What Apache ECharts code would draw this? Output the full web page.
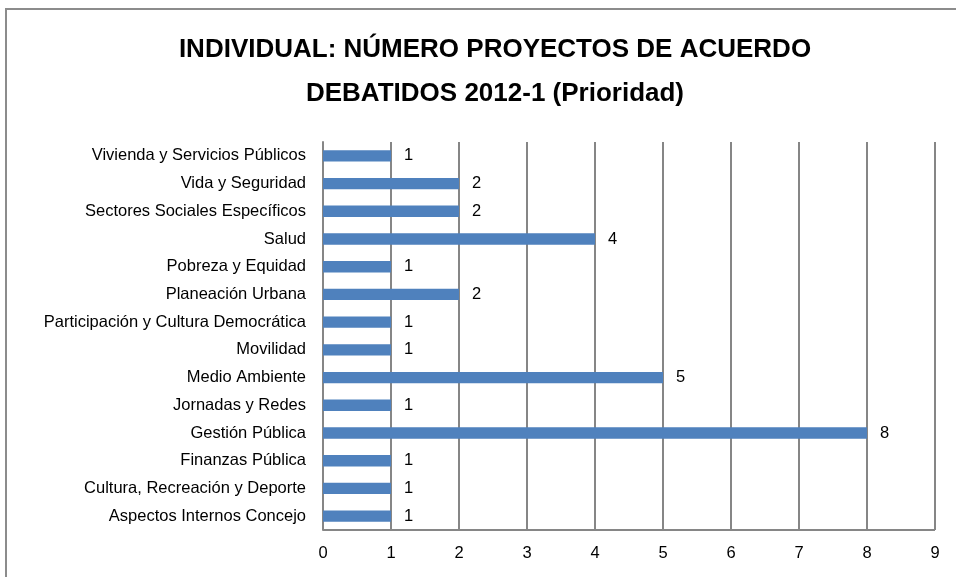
<!DOCTYPE html>
<html lang="es">
<head>
    <meta charset="UTF-8">
    <title>Proyectos de acuerdo 2012-1</title>
    <style>
        html, body { margin: 0; padding: 0; background: #fff; overflow: hidden; }
        #frame { position: absolute; left: 5px; top: 8px; width: 960px; height: 600px; border: 2px solid #8c8c8c; box-sizing: border-box; }
        #main { position: absolute; left: 0; top: 0; width: 956px; height: 577px; }
    </style>
</head>
<body>
<div id="frame"></div>
<div id="main"></div>
</body>
<script src="https://cdn.jsdelivr.net/npm/echarts@6/dist/echarts.min.js"></script>
<script>
    // categorias de abajo hacia arriba
    var categorias = ['Aspectos Internos Concejo', 'Cultura, Recreación y Deporte', 'Finanzas Pública',
        'Gestión Pública', 'Jornadas y Redes', 'Medio Ambiente', 'Movilidad',
        'Participación y Cultura Democrática', 'Planeación Urbana', 'Pobreza y Equidad', 'Salud',
        'Sectores Sociales Específicos', 'Vida y Seguridad', 'Vivienda y Servicios Públicos'];
    var valores = [1, 1, 1, 8, 1, 5, 1, 1, 2, 1, 4, 2, 2, 1];
    var tituloLineas = ['INDIVIDUAL: NÚMERO PROYECTOS DE ACUERDO', 'DEBATIDOS 2012-1 (Prioridad)'];

    var fuente = '"Liberation Sans Narrow", "Arial Narrow", "Liberation Sans", sans-serif';

    var chart = echarts.init(document.getElementById('main'), null, {renderer: 'canvas'});
    chart.setOption({
        animation: false,
        title: {
            text: tituloLineas.join('\n'),
            left: 490,
            textAlign: 'center',
            top: 23,
            textStyle: {fontFamily: fuente, fontSize: 26, fontWeight: 'bold', color: '#000', lineHeight: 44}
        },
        grid: {left: 323, right: 21, top: 142, bottom: 47},
        xAxis: {
            type: 'value',
            min: 0, max: 9, interval: 1,
            axisLine: {show: false},
            axisTick: {show: false},
            axisLabel: {fontFamily: fuente, fontSize: 16.5, color: '#000', margin: 15},
            splitLine: {show: true, lineStyle: {color: '#868686', width: 2}}
        },
        yAxis: {
            type: 'category',
            data: categorias,
            axisLine: {show: true, lineStyle: {color: '#868686', width: 2}},
            axisTick: {show: false},
            axisLabel: {fontFamily: fuente, fontSize: 16.5, color: '#000', margin: 17}
        },
        series: [{
            type: 'bar',
            data: valores,
            barWidth: '41%',
            itemStyle: {color: '#4f81bd'},
            label: {show: true, position: 'right', distance: 13, fontFamily: fuente, fontSize: 16.5, color: '#000'}
        }]
    });
    // linea base inferior del area de trazado
    chart.setOption({
        graphic: [{
            type: 'line',
            shape: {x1: 323, y1: 530, x2: 935, y2: 530},
            style: {stroke: '#868686', lineWidth: 2}
        }]
    });
</script>
</html>
